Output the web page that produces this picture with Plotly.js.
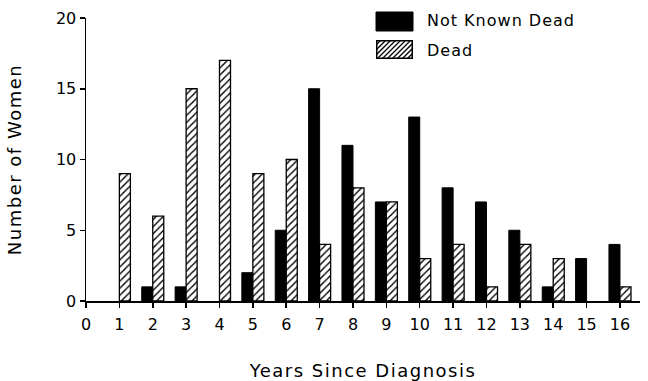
<!DOCTYPE html>
<html>
<head>
<meta charset="utf-8">
<script src="https://cdn.plot.ly/plotly-3.0.1.min.js"></script>
<style>
html,body{margin:0;padding:0;background:#fff;}
#chart{width:648px;height:381px;}
#chart .annotation-text{letter-spacing:1px;}
#chart .xtitle,#chart .ytitle{letter-spacing:1.5px;}
</style>
</head>
<body>
<div id="chart"></div>
<script>
var years = [1,2,3,4,5,6,7,8,9,10,11,12,13,14,15,16];
var notKnownDead = [0,1,1,0,2,5,15,11,7,13,8,7,5,1,3,4];
var dead = [9,6,15,17,9,10,4,8,7,3,4,1,4,3,0,1];
var xTicks = [0,1,2,3,4,5,6,7,8,9,10,11,12,13,14,15,16];
var yTicks = [0,5,10,15,20];
var seriesNames = ['Not Known Dead', 'Dead'];

var FONT = 'DejaVu Sans, sans-serif';
var L = 86, R = 8, T = 18, B = 80, W = 648, H = 381;
var pw = W - L - R, ph = H - T - B;
function px2x(p){ return (p - L) / pw; }
function py2y(p){ return (H - B - p) / ph; }

// hatched swatch as svg image
var sw = 37, sh = 19;
var lines = '';
for (var x = -sh; x < sw + sh; x += 5) {
  lines += '<line x1="' + x + '" y1="' + sh + '" x2="' + (x + sh) + '" y2="0" stroke="black" stroke-width="1.3"/>';
}
var svg = '<svg xmlns="http://www.w3.org/2000/svg" width="' + sw + '" height="' + sh + '" viewBox="0 0 ' + sw + ' ' + sh + '">' +
  '<rect x="0" y="0" width="' + sw + '" height="' + sh + '" fill="white"/>' + lines +
  '<rect x="0.75" y="0.75" width="' + (sw - 1.5) + '" height="' + (sh - 1.5) + '" fill="none" stroke="black" stroke-width="1.5"/></svg>';
var hatchSrc = 'data:image/svg+xml;base64,' + btoa(svg);

var traces = [
  {
    type: 'bar', name: seriesNames[0], x: years, y: notKnownDead,
    marker: {color: 'black', line: {color: 'black', width: notKnownDead.map(function(v){ return v === 0 ? 0 : 1; })}},
    showlegend: false, hoverinfo: 'x+y+name'
  },
  {
    type: 'bar', name: seriesNames[1], x: years, y: dead,
    marker: {color: 'white', line: {color: 'black', width: dead.map(function(v){ return v === 0 ? 0 : 1.3; })},
      pattern: {shape: '/', size: 5, solidity: 0.28, fgcolor: 'black', bgcolor: 'white'}},
    showlegend: false, hoverinfo: 'x+y+name'
  }
];

var layout = {
  width: W, height: H,
  margin: {l: L, r: R, t: T, b: B, pad: 0},
  paper_bgcolor: 'white', plot_bgcolor: 'white',
  font: {family: FONT, color: 'black', size: 16},
  barmode: 'group', bargap: 0.34, bargroupgap: 0,
  showlegend: false,
  xaxis: {
    range: [0, 16.6], tickvals: xTicks, ticktext: xTicks.map(String),
    showgrid: false, zeroline: false, showline: true, linecolor: 'black', linewidth: 1.5,
    ticks: 'outside', ticklen: 5, tickwidth: 1.5, tickcolor: 'black',
    ticklabelstandoff: 3,
    tickfont: {family: FONT, size: 16, color: 'black'},
    title: {text: 'Years Since Diagnosis', font: {family: FONT, size: 18, color: 'black'}, standoff: 31},
    fixedrange: true
  },
  yaxis: {
    range: [0, 20], tickvals: yTicks, ticktext: yTicks.map(String),
    showgrid: false, zeroline: false, showline: true, linecolor: 'black', linewidth: 1.5,
    ticks: 'outside', ticklen: 5, tickwidth: 1.5, tickcolor: 'black',
    tickfont: {family: FONT, size: 16, color: 'black'},
    title: {text: 'Number of Women', font: {family: FONT, size: 18, color: 'black'}, standoff: 29},
    fixedrange: true
  },
  shapes: [
    {type: 'rect', xref: 'paper', yref: 'paper', x0: px2x(376), x1: px2x(413), y0: py2y(31), y1: py2y(12),
     fillcolor: 'black', line: {color: 'black', width: 1}}
  ],
  images: [
    {source: hatchSrc, xref: 'paper', yref: 'paper', x: px2x(376), y: py2y(40),
     sizex: (413 - 376) / pw, sizey: 19 / ph, sizing: 'stretch', xanchor: 'left', yanchor: 'top', layer: 'above'}
  ],
  annotations: [
    {xref: 'paper', yref: 'paper', x: px2x(425), y: py2y(21), xanchor: 'left', yanchor: 'middle', align: 'left',
     text: seriesNames[0], showarrow: false, font: {family: FONT, size: 16, color: 'black'}},
    {xref: 'paper', yref: 'paper', x: px2x(425), y: py2y(50), xanchor: 'left', yanchor: 'middle', align: 'left',
     text: seriesNames[1], showarrow: false, font: {family: FONT, size: 16, color: 'black'}}
  ]
};

Plotly.newPlot('chart', traces, layout, {displayModeBar: false, staticPlot: true});
</script>
</body>
</html>
